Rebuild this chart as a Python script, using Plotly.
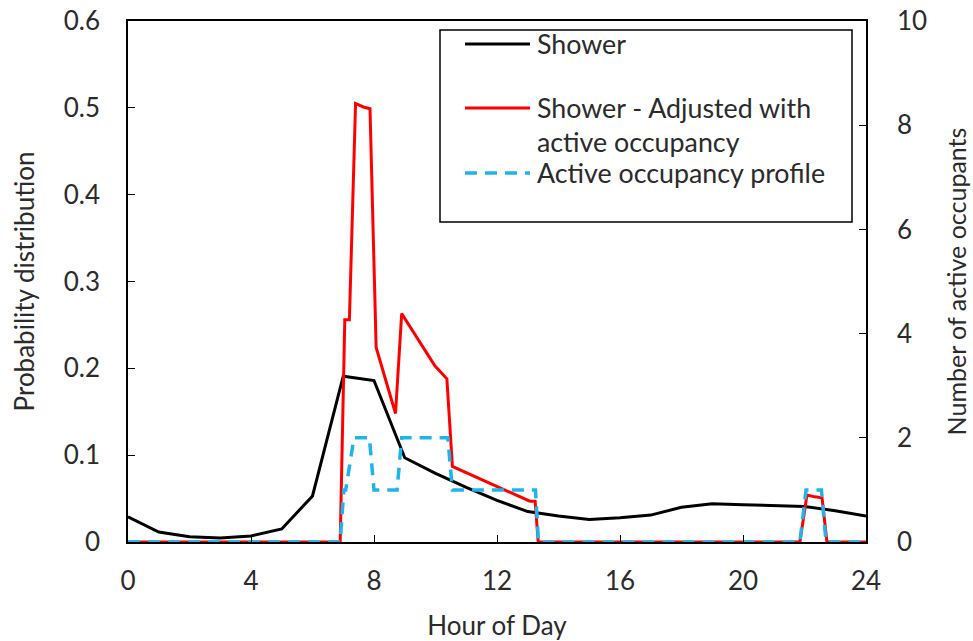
import plotly.graph_objects as go

# ---------------- data ----------------
shower_hours = [0, 1, 2, 3, 4, 5, 6, 7, 8, 9, 10, 11, 12, 13, 14, 15, 16, 17, 18, 19, 20, 21, 22, 23, 24]
shower_prob = [0.029, 0.0115, 0.006, 0.0045, 0.007, 0.015, 0.053, 0.191, 0.186, 0.097, 0.079,
               0.063, 0.048, 0.035, 0.030, 0.026, 0.028, 0.031, 0.040, 0.044, 0.043, 0.042,
               0.041, 0.036, 0.030]

adj_hours = [0, 6.9, 7.05, 7.2, 7.4, 7.65, 7.87, 8.07, 8.7, 8.9, 9.98, 10.37, 10.55, 13.07,
             13.24, 13.34, 21.85, 22.08, 22.34, 22.57, 22.73, 24]
adj_prob = [0, 0, 0.256, 0.256, 0.505, 0.501, 0.499, 0.224, 0.148, 0.263, 0.203, 0.188, 0.087,
            0.047, 0.047, 0, 0, 0.054, 0.052, 0.051, 0, 0]

occ_hours = [0, 6.9, 7.02, 7.08, 7.35, 7.85, 8.0, 8.75, 8.9, 10.4, 10.55, 13.25, 13.35,
             21.85, 22.05, 22.55, 22.7, 24]
occ_count = [0, 0, 1, 1, 2, 2, 1, 1, 2, 2, 1, 1, 0, 0, 1, 1, 0, 0]

legend_labels = ["Shower", "Shower - Adjusted with", "active occupancy", "Active occupancy profile"]

FONT = "Lato"
TXT = "#2b2b2b"
FS = 26
LFS = 26.8

# ---------------- figure ----------------
fig = go.Figure()
fig.add_trace(go.Scatter(x=shower_hours, y=shower_prob, mode="lines", name="Shower",
                         line=dict(color="black", width=3), showlegend=False))
fig.add_trace(go.Scatter(x=adj_hours, y=adj_prob, mode="lines",
                         name="Shower - Adjusted with active occupancy",
                         line=dict(color="#ff0000", width=3), showlegend=False))
fig.add_trace(go.Scatter(x=occ_hours, y=occ_count, mode="lines", name="Active occupancy profile",
                         yaxis="y2", line=dict(color="#1fb4ec", width=3.5, dash="12px,8px"),
                         showlegend=False))

W, H = 973, 641
L, R, T, B = 128, 107, 21, 99
pw, ph = W - L - R, H - T - B


def px(x):
    return (x - L) / pw


def py(y):
    return (H - B - y) / ph


# custom legend box
fig.add_shape(type="rect", xref="paper", yref="paper", x0=px(440), x1=px(852), y0=py(30), y1=py(222),
              line=dict(color="black", width=1.5), fillcolor="white", layer="above")
fig.add_shape(type="line", xref="paper", yref="paper", x0=px(465), x1=px(530), y0=py(44), y1=py(44),
              line=dict(color="black", width=3))
fig.add_shape(type="line", xref="paper", yref="paper", x0=px(465), x1=px(530), y0=py(108), y1=py(108),
              line=dict(color="#ff0000", width=3))
fig.add_shape(type="line", xref="paper", yref="paper", x0=px(465), x1=px(530), y0=py(173), y1=py(173),
              line=dict(color="#1fb4ec", width=3.5, dash="12px,8px"))
for lab, yy in zip(legend_labels, [44, 108, 142, 173]):
    fig.add_annotation(xref="paper", yref="paper", x=px(535), y=py(yy), text=lab, showarrow=False,
                       xanchor="left", yanchor="middle", font=dict(family=FONT, size=LFS, color=TXT))

axis_common = dict(showline=True, linecolor="black", linewidth=1.5, ticks="inside", ticklen=7,
                   tickcolor="black", showgrid=False, zeroline=False, automargin=False,
                   tickfont=dict(family=FONT, size=FS, color=TXT))

fig.update_layout(
    width=W, height=H, margin=dict(l=L, r=R, t=T, b=B), autosize=False,
    paper_bgcolor="white", plot_bgcolor="white",
    xaxis=dict(range=[0, 24], dtick=4, tick0=0, mirror=True, ticklabelstandoff=15,
               title=dict(text="Hour of Day", font=dict(family=FONT, size=FS, color=TXT), standoff=26),
               **axis_common),
    yaxis=dict(range=[0, 0.6], dtick=0.1, tick0=0, ticklabelstandoff=21,
               title=dict(text="Probability distribution", font=dict(family=FONT, size=FS, color=TXT),
                          standoff=22),
               **axis_common),
    yaxis2=dict(range=[0, 10], dtick=2, tick0=0, overlaying="y", side="right", ticklabelstandoff=24,
                title=dict(text="Number of active occupants", font=dict(family=FONT, size=25, color=TXT),
                           standoff=22),
                **axis_common),
)

fig.write_html("out.html")
